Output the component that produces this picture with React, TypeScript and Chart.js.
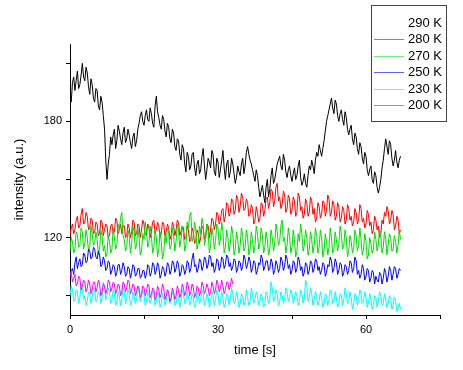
import { useEffect, useRef } from "react";
import { Chart, registerables } from "chart.js";

Chart.register(...registerables);

// ---- data ----
const TIME_STEP = 0.25; // seconds between samples
const seriesLabels = ["290 K", "280 K", "270 K", "250 K", "230 K", "200 K"];

const k290 = [
  193, 190, 200, 203, 196, 201, 206, 197, 199, 204, 210, 203, 201, 208, 205, 198, 194, 202, 199, 192,
  190, 197, 196, 188, 186, 193, 190, 183, 176, 160, 150, 158, 163, 172, 168, 173, 176, 166, 170, 178,
  175, 171, 168, 174, 177, 169, 171, 176, 173, 169, 166, 172, 174, 167, 170, 176, 179, 183, 185, 180,
  178, 183, 186, 181, 180, 187, 184, 179, 177, 188, 193, 185, 182, 178, 176, 183, 181, 175, 172, 179,
  177, 171, 169, 176, 174, 167, 165, 171, 170, 163, 160, 168, 166, 158, 154, 164, 162, 155, 157, 163,
  164, 156, 152, 158, 160, 153, 155, 162, 166, 157, 150, 155, 161, 159, 156, 165, 163, 154, 152, 161,
  159, 151, 155, 160, 165, 156, 150, 158, 160, 151, 154, 161, 158, 153, 148, 151, 157, 154, 152, 158,
  161, 153, 157, 164, 167, 163, 160, 158, 155, 152, 149, 155, 152, 146, 141, 144, 147, 142, 138, 146,
  150, 141, 145, 152, 156, 148, 150, 154, 158, 160, 162, 157, 155, 163, 160, 154, 151, 155, 157, 152,
  149, 153, 156, 150, 152, 157, 160, 151, 147, 149, 153, 148, 146, 152, 157, 155, 160, 157, 153, 160,
  164, 162, 168, 165, 162, 166, 170, 175, 180, 183, 186, 189, 192, 187, 184, 191, 189, 183, 180, 184,
  186, 181, 178, 185, 182, 176, 173, 176, 178, 171, 168, 174, 172, 166, 163, 169, 167, 161, 158, 164,
  162, 155, 152, 155, 157, 150, 148, 154, 152, 146, 143, 146, 150, 156, 160, 166, 171, 167, 163, 170,
  168, 161, 157, 160, 165, 159, 156, 160, 162,
];
const k280 = [
  121, 125, 127, 122, 124, 129, 131, 125, 126, 132, 135, 127, 128, 133, 131, 124, 125, 130, 129, 122,
  123, 128, 127, 121, 122, 129, 128, 121, 124, 127, 126, 120, 121, 126, 127, 122, 123, 130, 129, 122,
  124, 127, 122, 126, 126, 120, 121, 127, 125, 120, 123, 129, 128, 121, 122, 127, 126, 120, 124, 129,
  127, 122, 121, 127, 125, 120, 123, 128, 129, 122, 124, 128, 126, 120, 122, 128, 127, 121, 123, 127,
  125, 119, 121, 128, 126, 121, 124, 129, 128, 121, 123, 126, 125, 119, 120, 126, 124, 118, 119, 125,
  123, 117, 118, 124, 122, 117, 120, 126, 125, 119, 121, 127, 126, 120, 124, 130, 129, 124, 127, 133,
  132, 127, 129, 134, 135, 128, 131, 138, 137, 131, 133, 140, 139, 132, 134, 142, 140, 133, 136, 143,
  141, 134, 135, 140, 138, 131, 132, 137, 135, 127, 129, 136, 133, 128, 130, 138, 137, 131, 134, 140,
  141, 135, 138, 145, 144, 136, 139, 146, 148, 139, 141, 135, 137, 144, 142, 133, 135, 142, 140, 132,
  134, 141, 139, 131, 133, 143, 141, 134, 136, 130, 132, 140, 138, 131, 133, 141, 139, 132, 135, 128,
  130, 138, 136, 130, 132, 139, 138, 131, 134, 142, 140, 131, 133, 139, 137, 129, 131, 138, 136, 128,
  130, 136, 134, 127, 129, 137, 135, 129, 131, 126, 128, 135, 133, 127, 129, 137, 135, 128, 130, 125,
  127, 134, 132, 126, 128, 122, 124, 131, 129, 124, 126, 120, 122, 129, 127, 133, 131, 136, 134, 127,
  129, 134, 132, 124, 126, 131, 129, 122, 124,
];
const k270 = [
  113, 120, 118, 112, 114, 123, 121, 115, 116, 125, 123, 114, 117, 124, 120, 113, 115, 126, 122, 116,
  117, 123, 119, 111, 114, 124, 121, 113, 116, 110, 112, 121, 118, 112, 114, 125, 120, 114, 116, 127,
  124, 130, 133, 121, 119, 113, 115, 124, 121, 112, 117, 126, 123, 114, 116, 125, 120, 111, 113, 122,
  119, 128, 124, 115, 117, 126, 121, 112, 115, 124, 120, 110, 114, 123, 118, 109, 112, 121, 117, 125,
  123, 114, 116, 125, 121, 113, 118, 127, 124, 115, 119, 126, 122, 113, 116, 128, 125, 131, 133, 118,
  120, 128, 124, 114, 117, 126, 122, 130, 127, 116, 119, 127, 123, 112, 116, 125, 121, 114, 118, 127,
  125, 116, 119, 128, 123, 112, 115, 124, 120, 113, 117, 126, 122, 111, 114, 123, 119, 112, 116, 125,
  121, 113, 115, 124, 120, 111, 114, 123, 119, 112, 116, 126, 122, 114, 117, 125, 121, 112, 115, 123,
  119, 111, 114, 124, 120, 113, 117, 127, 123, 116, 118, 126, 129, 118, 120, 112, 116, 125, 121, 112,
  115, 124, 119, 110, 113, 122, 118, 127, 122, 113, 116, 124, 120, 111, 114, 123, 119, 112, 116, 125,
  121, 112, 115, 124, 120, 110, 113, 122, 118, 111, 115, 125, 120, 112, 114, 123, 119, 113, 117, 126,
  122, 114, 116, 124, 120, 110, 113, 121, 118, 112, 115, 124, 121, 113, 116, 125, 119, 111, 114, 122,
  118, 109, 111, 120, 117, 112, 114, 123, 119, 113, 116, 124, 121, 112, 115, 123, 119, 111, 116, 122,
  120, 113, 114, 121, 118, 112, 116, 124, 119,
];
const k250 = [
  100, 103, 104, 101, 107, 110, 104, 107, 109, 105, 106, 112, 111, 107, 108, 114, 113, 109, 110, 115,
  114, 110, 109, 113, 111, 105, 106, 110, 108, 103, 104, 108, 107, 101, 103, 106, 105, 100, 102, 106,
  106, 101, 103, 107, 105, 100, 101, 105, 104, 99, 102, 106, 105, 100, 101, 104, 104, 99, 100, 103,
  103, 99, 101, 106, 105, 100, 102, 107, 106, 101, 103, 107, 105, 99, 101, 105, 104, 100, 102, 107,
  106, 101, 103, 108, 107, 102, 104, 108, 106, 100, 102, 106, 105, 101, 103, 108, 107, 102, 104, 109,
  112, 105, 106, 102, 104, 109, 108, 103, 105, 110, 109, 104, 106, 111, 110, 105, 107, 102, 104, 109,
  108, 103, 105, 110, 109, 104, 106, 111, 110, 105, 107, 103, 105, 109, 108, 102, 104, 108, 107, 103,
  105, 111, 109, 104, 106, 110, 108, 102, 104, 108, 107, 101, 103, 107, 106, 111, 109, 103, 105, 108,
  108, 103, 104, 109, 107, 101, 103, 108, 106, 102, 104, 110, 108, 103, 105, 111, 109, 104, 106, 101,
  103, 108, 107, 102, 104, 110, 108, 103, 105, 100, 102, 107, 106, 101, 103, 108, 107, 102, 104, 109,
  108, 103, 105, 101, 103, 107, 106, 100, 102, 106, 105, 110, 108, 102, 104, 109, 107, 101, 103, 107,
  106, 100, 102, 106, 105, 101, 103, 108, 107, 102, 104, 110, 108, 101, 103, 99, 101, 106, 104, 98,
  100, 104, 103, 97, 99, 103, 102, 96, 100, 98, 97, 102, 101, 96, 99, 104, 102, 97, 100, 105,
  103, 98, 101, 105, 104, 99, 101, 104, 103,
];
const k230 = [
  90, 95, 93, 87, 88, 93, 92, 86, 89, 96, 94, 88, 90, 85, 87, 92, 91, 86, 89, 94,
  93, 87, 88, 92, 91, 86, 89, 97, 95, 88, 90, 94, 92, 86, 88, 93, 91, 85, 87, 92,
  90, 85, 88, 94, 92, 86, 89, 93, 91, 85, 87, 92, 90, 86, 88, 95, 92, 87, 89, 93,
  91, 85, 87, 92, 90, 86, 88, 93, 91, 85, 87, 92, 90, 84, 86, 91, 89, 85, 87, 93,
  91, 86, 88, 92, 90, 85, 86, 91, 89, 84, 87, 93, 91, 86, 88, 92, 90, 85, 87, 91,
  89, 84, 86, 92, 90, 86, 88, 93, 91, 85, 87, 91, 89, 84, 86, 92, 90, 85, 88, 93,
  91, 85, 87, 92, 89, 84, 86, 91, 90, 85, 88, 94, 91, 86, 87, 92, 89, 84, 86, 91,
  90, 85, 87, 93, 89, 85, 87, 94, 91, 86, 88, 92, 90, 85, 87, 91, 89, 84, 86, 92,
  90, 86, 88, 97, 94, 87, 89, 93, 91, 85, 87, 92, 90, 86, 88, 94, 92, 87, 89, 93,
  91, 86, 88, 92, 90, 85, 87, 93, 91, 86, 89, 98, 96, 87, 89, 94, 91, 85, 88, 92,
  90, 85, 87, 92, 89, 84, 86, 91, 90, 85, 88, 93, 91, 86, 87, 92, 89, 84, 86, 91,
  90, 85, 88, 94, 91, 86, 87, 92, 89, 83, 86, 91, 90, 85, 88, 93, 91, 86, 87, 92,
  89, 84, 86, 91, 88, 83, 85, 90, 89, 84, 87, 92, 90, 85, 86, 91, 88, 84, 86, 90,
  89, 83, 85, 89, 87, 82, 84, 86, 83,
];
const k200 = [
  100, 102, 97, 99, 101, 95, 96, 100, 99, 93, 95, 98, 97, 92, 94, 98, 96, 91, 93, 97,
  97, 92, 94, 98, 96, 90, 92, 96, 95, 91, 93, 98, 97, 92, 94, 97, 96, 91, 93, 96,
  95, 90, 92, 97, 96, 92, 94, 98, 97, 91, 93, 96, 95, 90, 92, 95, 94, 89, 91, 95,
  94, 90, 92, 96, 95, 89, 91, 94, 93, 88, 90, 95, 93, 89, 91, 96, 94, 88, 90, 93,
  92, 87, 89, 94, 92, 88, 90, 95, 93, 89, 91, 96, 94, 90, 92, 97, 95, 90, 92, 96,
  94, 89, 91, 95, 94, 90, 92, 97, 95, 91, 93, 96, 94, 90, 92, 97, 95, 91, 93, 98,
  96, 92, 94, 98, 95, 91, 93, 97, 97, 93, 95, 99, 96,
];

const xTicks = [0, 15, 30, 45, 60, 75];
const xTickLabels = [0, 30, 60];
const yTicks = [90, 120, 150, 180, 210];
const yTickLabels = [120, 180];

// ---- styles ----
const lineColors = ["#000000", "#ff0000", "#00dd00", "#0000ff", "#00ffff", "#ff00ff"];
const legendColors = ["#ffffff", "#e86060", "#7ae87a", "#6060ff", "#60f8f8", "#e860e8"];
const FONT = "'Liberation Sans', Arial, sans-serif";

const allSeries = [k290, k280, k270, k250, k230, k200];

const legendPlugin = {
  id: "boxLegend",
  afterDraw(chart: any) {
    const ctx = chart.ctx as CanvasRenderingContext2D;
    ctx.save();
    ctx.fillStyle = "#ffffff";
    ctx.fillRect(371.5, 5.5, 75, 116);
    ctx.strokeStyle = "#444444";
    ctx.lineWidth = 1;
    ctx.strokeRect(371.5, 5.5, 75, 116);
    ctx.font = `13px ${FONT}`;
    ctx.textBaseline = "middle";
    ctx.textAlign = "left";
    seriesLabels.forEach((lab, i) => {
      const y = Math.round(23 + i * 16.4);
      ctx.strokeStyle = legendColors[i];
      ctx.beginPath();
      ctx.moveTo(374, y + 0.5);
      ctx.lineTo(404, y + 0.5);
      ctx.stroke();
      ctx.fillStyle = "#000000";
      ctx.fillText(lab, 408, y + 0.5);
    });
    ctx.restore();
  },
};

export default function App() {
  const ref = useRef<HTMLCanvasElement | null>(null);

  useEffect(() => {
    if (!ref.current) return;
    const datasets = allSeries.map((vals, i) => ({
      label: seriesLabels[i],
      data: vals.map((v, j) => ({ x: j * TIME_STEP, y: v })),
      borderColor: lineColors[i],
      backgroundColor: lineColors[i],
      borderWidth: 1,
      pointRadius: 0,
      tension: 0,
      fill: false,
      order: allSeries.length - i,
    }));

    const chart = new Chart(ref.current, {
      type: "line",
      data: { datasets },
      options: {
        animation: false,
        responsive: false,
        devicePixelRatio: 1,
        layout: { padding: { top: 44, right: 23, left: 0, bottom: 0 } },
        plugins: { legend: { display: false }, tooltip: { enabled: false } },
        scales: {
          x: {
            type: "linear",
            min: 0,
            max: 75,
            afterBuildTicks: (s: any) => {
              s.ticks = xTicks.map((v) => ({ value: v }));
            },
            afterFit: (s: any) => {
              s.height = 55;
            },
            ticks: {
              autoSkip: false,
              maxRotation: 0,
              padding: 4,
              color: "#000",
              font: { family: FONT, size: 11 },
              callback: (v: any) => (xTickLabels.includes(Number(v)) ? String(v) : ""),
            },
            grid: {
              drawOnChartArea: false,
              drawTicks: true,
              tickLength: 4,
              color: "#000",
            },
            border: { display: true, color: "#000", width: 1 },
            title: {
              display: true,
              text: "time [s]",
              color: "#000",
              font: { family: FONT, size: 13 },
              padding: { top: 0, bottom: 12 },
            },
          },
          y: {
            type: "linear",
            min: 80,
            max: 220,
            afterBuildTicks: (s: any) => {
              s.ticks = yTicks.map((v) => ({ value: v }));
            },
            afterFit: (s: any) => {
              s.width = 70;
            },
            ticks: {
              autoSkip: false,
              padding: 4,
              color: "#000",
              font: { family: FONT, size: 11 },
              callback: (v: any) => (yTickLabels.includes(Number(v)) ? String(v) : ""),
            },
            grid: {
              drawOnChartArea: false,
              drawTicks: true,
              tickLength: 4,
              color: "#000",
            },
            border: { display: true, color: "#000", width: 1 },
            title: {
              display: true,
              text: "intensity (a.u.)",
              color: "#000",
              font: { family: FONT, size: 13 },
              padding: { top: 12, bottom: 0 },
            },
          },
        },
      },
      plugins: [legendPlugin],
    });

    return () => chart.destroy();
  }, []);

  return (
    <div style={{ position: "fixed", left: 0, top: 0, width: 463, height: 370, background: "#fff" }}>
      <canvas ref={ref} width={463} height={370} style={{ display: "block" }} />
    </div>
  );
}
